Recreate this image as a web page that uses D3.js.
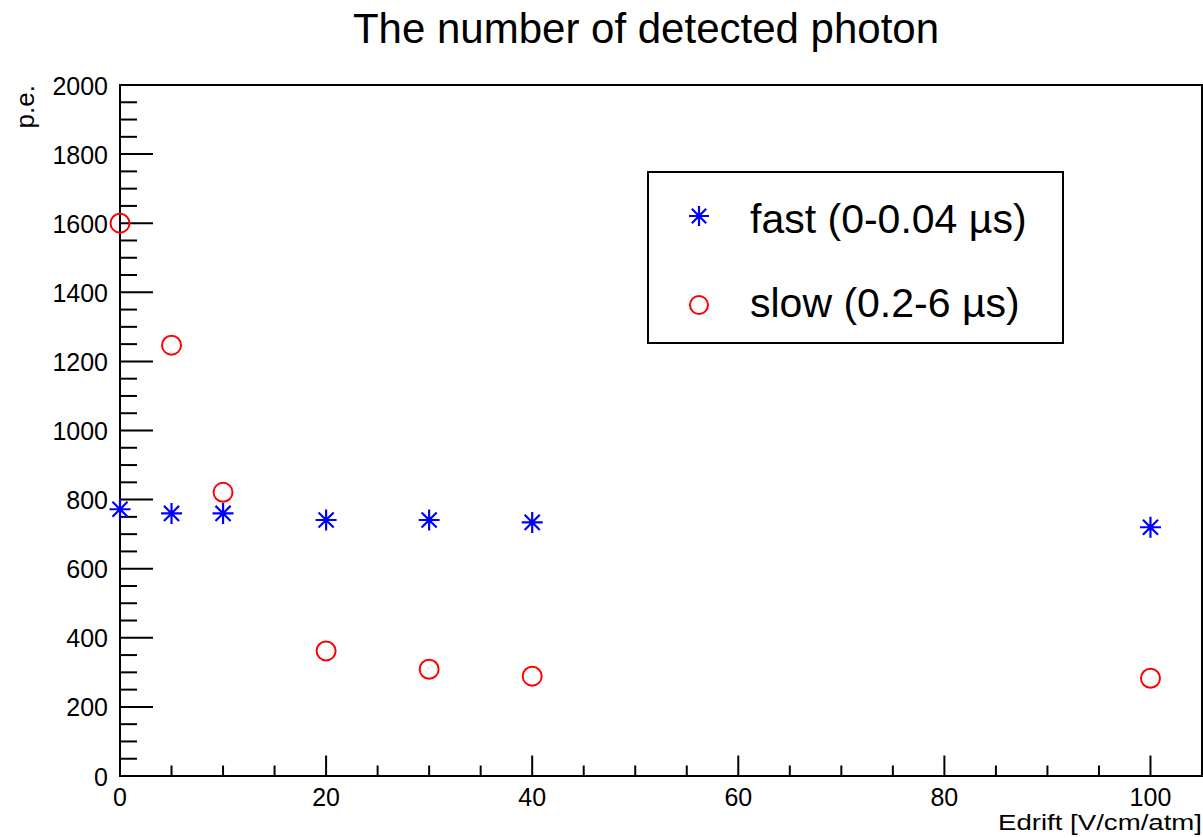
<!DOCTYPE html>
<html>
<head>
<meta charset="utf-8">
<script src="https://cdn.jsdelivr.net/npm/d3@7"></script>
<style>
  html, body { margin: 0; padding: 0; background: #fff; }
  svg { display: block; }
  text { font-family: "Liberation Sans", Arial, Helvetica, sans-serif; fill: #000; }
</style>
</head>
<body>
<svg id="chart" width="1203" height="838"></svg>
<script>
// ---- data ----
const edrift = [0, 5, 10, 20, 30, 40, 100];
const fastPE = [772, 760, 760, 741, 741, 734, 720];
const slowPE = [1600, 1247, 821, 362, 309, 289, 283];
const seriesNames = ["fast (0-0.04 \u00b5s)", "slow (0.2-6 \u00b5s)"];
const xTickLabels = [0, 20, 40, 60, 80, 100];
const yTickLabels = [0, 200, 400, 600, 800, 1000, 1200, 1400, 1600, 1800, 2000];
const titleText = "The number of detected photon";
const xTitle = "Edrift [V/cm/atm]";
const yTitle = "p.e.";

// ---- layout ----
const svg = d3.select("#chart");
const L = 120, R = 1202, T = 85, B = 776;
const x = d3.scaleLinear().domain([0, 105]).range([L, R]);
const y = d3.scaleLinear().domain([0, 2000]).range([B, T]);

// title
svg.append("text").attr("x", 646).attr("y", 42.5).attr("text-anchor", "middle")
  .attr("font-size", 42).text(titleText);

// frame
svg.append("rect").attr("x", L).attr("y", T).attr("width", R - L).attr("height", B - T)
  .attr("fill", "none").attr("stroke", "#000").attr("stroke-width", 2);

// x ticks (inward, up)
const xMinor = d3.range(0, 105.01, 5);
svg.append("g").selectAll("line").data(xMinor).join("line")
  .attr("x1", d => x(d)).attr("x2", d => x(d))
  .attr("y1", B).attr("y2", d => B - (d % 20 === 0 ? 20.5 : 10.5))
  .attr("stroke", "#000").attr("stroke-width", 2);
svg.append("g").selectAll("text").data(xTickLabels).join("text")
  .attr("x", d => x(d)).attr("y", 806).attr("text-anchor", "middle")
  .attr("font-size", 25).text(d => d);

// y ticks (inward, right)
const yMinor = d3.range(0, 2000.1, 50);
svg.append("g").selectAll("line").data(yMinor).join("line")
  .attr("x1", L).attr("x2", d => L + (d % 200 === 0 ? 33 : 17))
  .attr("y1", d => y(d)).attr("y2", d => y(d))
  .attr("stroke", "#000").attr("stroke-width", 2);
svg.append("g").selectAll("text").data(yTickLabels).join("text")
  .attr("x", 108).attr("y", d => y(d) + 9.5).attr("text-anchor", "end")
  .attr("font-size", 25).text(d => d);

// axis titles
svg.append("text").attr("x", R).attr("y", 830).attr("text-anchor", "end")
  .attr("font-size", 22).attr("textLength", 204).attr("lengthAdjust", "spacingAndGlyphs")
  .text(xTitle);
svg.append("text").attr("transform", `translate(34,${T}) rotate(-90)`)
  .attr("text-anchor", "end").attr("font-size", 26).text(yTitle);

// markers
function starPath(cx, cy, s) {
  const d = s * 0.72;
  return `M${cx - s},${cy}L${cx + s},${cy}M${cx},${cy - s}L${cx},${cy + s}` +
         `M${cx - d},${cy - d}L${cx + d},${cy + d}M${cx - d},${cy + d}L${cx + d},${cy - d}`;
}
const pts = edrift.map((e, i) => ({ e, f: fastPE[i], s: slowPE[i] }));

svg.append("g").selectAll("circle").data(pts).join("circle")
  .attr("cx", d => x(d.e)).attr("cy", d => y(d.s)).attr("r", 9.5)
  .attr("fill", "none").attr("stroke", "#ff0000").attr("stroke-width", 2);

const fg = svg.append("g");
fg.selectAll("path").data(pts).join("path")
  .attr("d", d => starPath(x(d.e), y(d.f), 10.5))
  .attr("stroke", "#0000ff").attr("stroke-width", 2.2).attr("fill", "none");
fg.selectAll("circle").data(pts).join("circle")
  .attr("cx", d => x(d.e)).attr("cy", d => y(d.f)).attr("r", 2.5).attr("fill", "#0000ff");

// legend
const lg = svg.append("g");
lg.append("rect").attr("x", 648).attr("y", 172).attr("width", 415).attr("height", 171)
  .attr("fill", "#fff").attr("stroke", "#000").attr("stroke-width", 2);
lg.append("path").attr("d", starPath(699, 216, 10)).attr("stroke", "#0000ff")
  .attr("stroke-width", 2.2).attr("fill", "none");
lg.append("circle").attr("cx", 699).attr("cy", 216).attr("r", 2.5).attr("fill", "#0000ff");
lg.append("circle").attr("cx", 699).attr("cy", 305).attr("r", 9).attr("fill", "none")
  .attr("stroke", "#ff0000").attr("stroke-width", 2);
lg.append("text").attr("x", 750).attr("y", 233).attr("font-size", 41).text(seriesNames[0]);
lg.append("text").attr("x", 750).attr("y", 317).attr("font-size", 41).text(seriesNames[1]);
</script>
</body>
</html>
